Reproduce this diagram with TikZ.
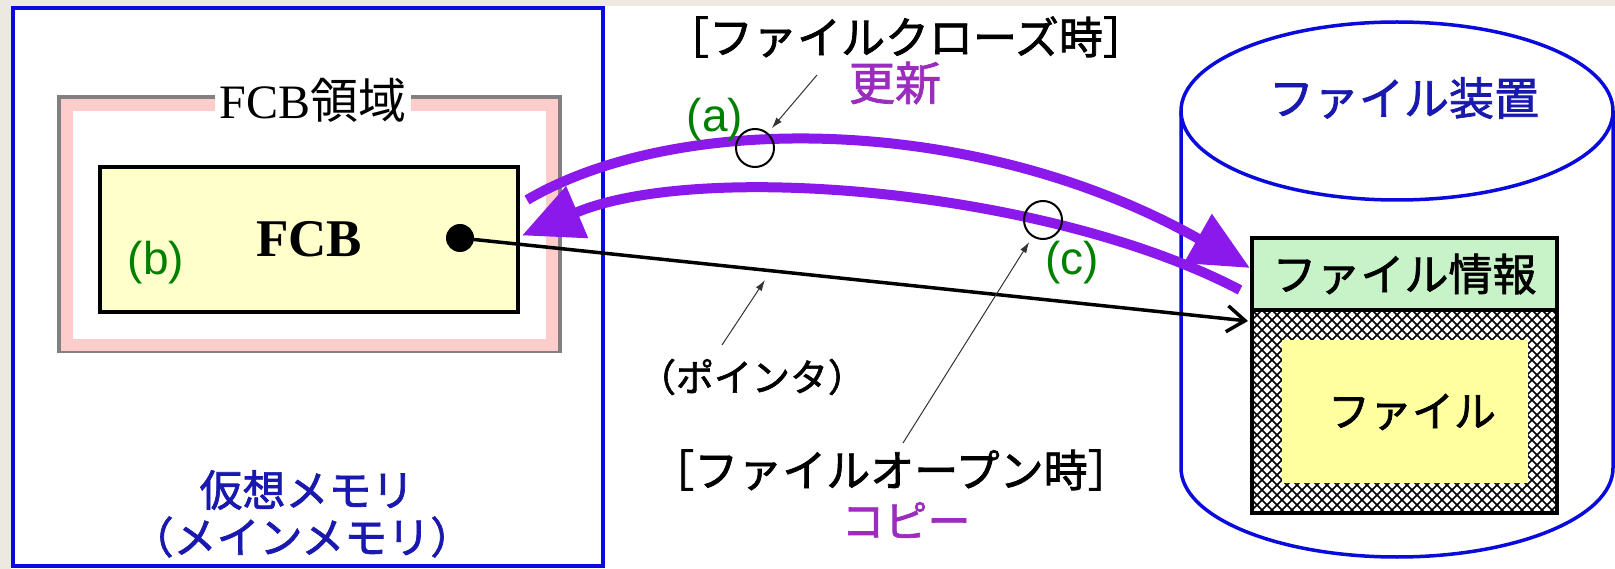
\documentclass[tikz,border=0pt]{standalone}
\usepackage{fontspec}
\setmainfont{Liberation Serif}
\newfontfamily\jp{Noto Sans CJK JP}[FakeBold=1.6]
\newfontfamily\jpl{Noto Sans CJK JP}
\newfontfamily\lat{Liberation Sans}
\usetikzlibrary{arrows.meta}
\definecolor{bg}{RGB}{236,233,224}
\definecolor{myblue}{RGB}{10,10,220}
\definecolor{txtblue}{RGB}{25,25,175}
\definecolor{purp}{RGB}{140,25,235}
\definecolor{purptxt}{RGB}{155,45,190}
\definecolor{grn}{RGB}{0,128,0}
\definecolor{fcbfill}{RGB}{255,255,204}
\definecolor{infofill}{RGB}{200,242,200}
\definecolor{filefill}{RGB}{255,255,160}
\definecolor{pinkb}{RGB}{255,204,204}
\definecolor{grayb}{RGB}{128,128,128}
\begin{document}
\begin{tikzpicture}[x=1pt,y=-1pt,
  jptext/.style={font=\jp\fontsize{44}{50}\selectfont, inner sep=0pt},
  greenlbl/.style={font=\lat\fontsize{46}{50}\selectfont, text=grn, inner sep=0pt},
  purparrow/.style={purp, line width=10pt, -{Triangle[length=60pt,width=54pt]}},
  leader/.style={black!80, line width=1pt, -{Latex[length=11pt,width=7pt]}},
  marker/.style={circle, draw=black, line width=2pt, minimum size=38pt, inner sep=0pt},
  boxnode/.style={draw=black, line width=4pt, inner sep=0pt}]
\useasboundingbox (0,0) rectangle (1615,569);
\fill[bg] (0,0) rectangle (1615,569);
\fill[white] (11,6) rectangle (1615,569);

% virtual memory box
\node[draw=myblue, line width=4pt, minimum width=590pt, minimum height=558pt, inner sep=0pt] (vmem) at (308,287) {};
% FCB area frame
\node[draw=grayb, line width=4pt, minimum width=501pt, minimum height=254pt, inner sep=0pt] (area) at (309.5,224) {};
\node[draw=pinkb, line width=12pt, minimum width=485pt, minimum height=240pt, inner sep=0pt] (areain) at (309.5,225) {};
\node[fill=white, inner xsep=5pt, inner ysep=3pt, font=\fontsize{48}{52}\selectfont] (arealbl) at (313,100) {FCB{\jpl 領域}};
% FCB box
\node[boxnode, fill=fcbfill, minimum width=418pt, minimum height=145pt, font=\bfseries\fontsize{53}{56}\selectfont] (fcb) at (309,239.5) {FCB};
\node[circle, fill=black, inner sep=0pt, minimum size=28pt] (dot) at (460,238) {};
\node[greenlbl] (lb) at (156,263) {(b)};
\node[jptext, text=txtblue, font=\jp\fontsize{43}{48}\selectfont] (vm1) at (307,490) {仮想メモリ};
\node[jptext, text=txtblue, font=\jp\fontsize{43}{48}\selectfont] (vm2) at (302,537) {（メインメモリ）};

% file device cylinder
\draw[myblue, line width=3.5pt] (1181,111) -- (1181,468) arc[start angle=180, end angle=360, x radius=216pt, y radius=89pt] -- (1613,111);
\draw[myblue, line width=3.5pt] (1397,111) ellipse [x radius=216pt, y radius=89pt];
\node[jptext, text=txtblue, font=\jp\fontsize{45}{50}\selectfont] (dev) at (1404,98) {ファイル装置};

% file info and file body
\node[boxnode, fill=infofill, minimum width=305pt, minimum height=72pt, jptext] (finfo) at (1404.5,274) {ファイル情報};
\begin{scope}
  \clip (1252,310) rectangle (1557,513);
  \foreach \a in {1032,1042,...,1562} \draw[line width=1.6pt] (\a,310) -- ++(210,210);
  \foreach \a in {1252,1262,...,1782} \draw[line width=1.6pt] (\a,310) -- ++(-210,210);
\end{scope}
\node[fill=filefill, minimum width=246pt, minimum height=143pt, inner sep=0pt] (fyel) at (1405,411.5) {};
\node[jptext, font=\jp\fontsize{42}{46}\selectfont] (ftxt) at (1412,412) {ファイル};
\node[boxnode, minimum width=305pt, minimum height=203pt] (fbody) at (1404.5,411.5) {};

% purple arcs
\coordinate (u0) at (527,200);
\coordinate (l0) at (1240,290);
\draw[purparrow] (u0) .. controls (680,110) and (980,115) .. ([yshift=6pt]finfo.west);
\draw[purparrow] (l0) .. controls (1050,190) and (700,160) .. ([xshift=2pt,yshift=4pt]fcb.east);

% pointer
\draw[line width=3.5pt, -{Straight Barb[length=18pt,width=26pt]}] (dot) -- ([xshift=-2pt,yshift=-13pt]fbody.north west);

% markers
\node[marker] (circA) at (755,148) {};
\node[marker] (circC) at (1043,220) {};
\node[greenlbl] (la) at (715,120) {(a)};
\node[greenlbl] (lcc) at (1072,263) {(c)};

% texts
\node[jptext] (closelbl) at (906,37) {［ファイルクローズ時］};
\node[jptext, text=purptxt, font=\jp\fontsize{46}{50}\selectfont] (upd) at (895,83) {更新};
\node[jptext, font=\jp\fontsize{38}{42}\selectfont] (ptrlbl) at (752,377) {（ポインタ）};
\node[jptext] (openlbl) at (891,470) {［ファイルオープン時］};
\node[jptext, text=purptxt, font=\jp\fontsize{43}{48}\selectfont] (copy) at (906,520) {コピー};

% leaders
\coordinate (ka) at (817,75);
\coordinate (kc) at (903,443);
\coordinate (kp0) at (722,345);
\coordinate (kp1) at (765,280);
\draw[leader, shorten >=6pt] (ka) -- (circA);
\draw[leader, shorten >=6pt] (kc) -- (circC);
\draw[leader] (kp0) -- (kp1);
\end{tikzpicture}
\end{document}
